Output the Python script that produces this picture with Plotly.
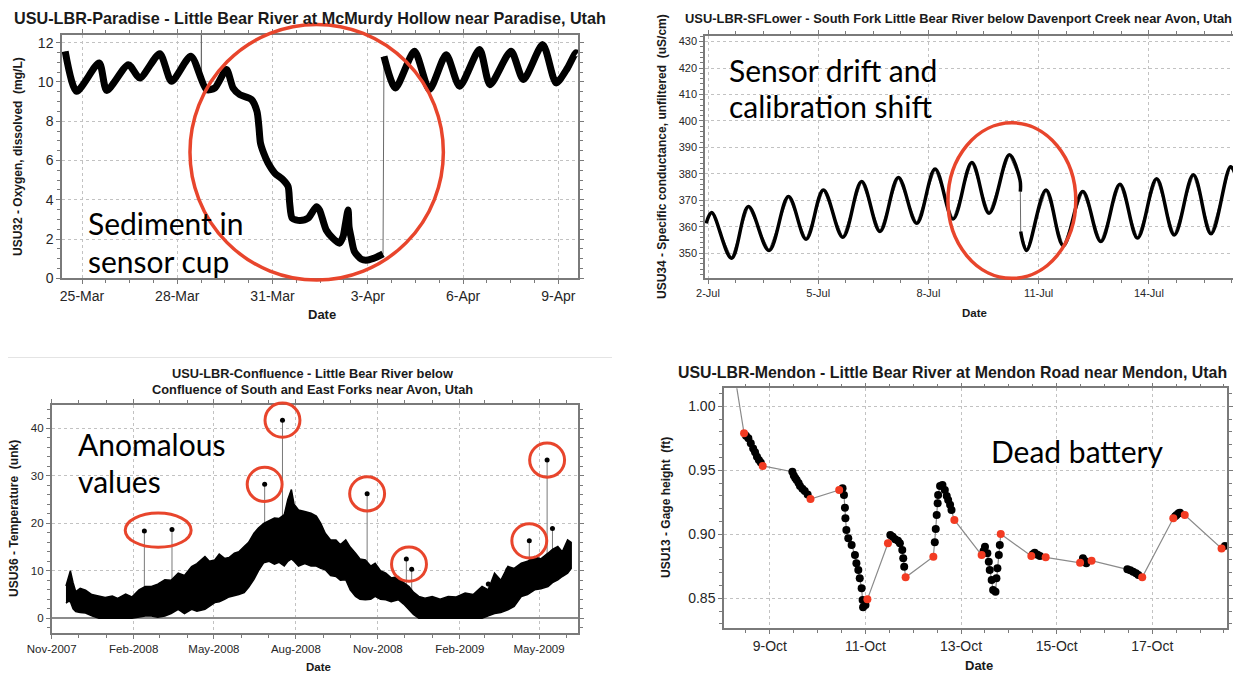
import pandas as pd
import plotly.graph_objects as go

W, H = 1241, 673          # browser window
OX, OY = 8, 8             # page body margin around the figure div
FW, FH = W - OX, H - OY   # figure size so the page does not scroll

# ---------------- Panel 1: dissolved oxygen (mg/L), days after 25-Mar ----------------
p1_base = "2008-03-25"
p1_day_a = [-0.53, -0.17, 0.54, 0.78, 1.46, 1.82, 2.45, 2.82, 3.43, 3.92, 4.18, 4.55, 4.76, 4.97,
            5.34, 5.51, 5.57, 5.62, 5.72, 5.86, 6.07, 6.33, 6.49, 6.54, 6.62, 6.86, 7.12, 7.38,
            7.48, 7.69, 7.90, 8.11, 8.22, 8.30, 8.38, 8.41, 8.48, 8.58, 8.80, 9.00, 9.27, 9.48]
p1_val_a = [11.56, 9.52, 10.97, 9.57, 10.88, 10.20, 11.44, 10.03, 11.31, 9.61, 9.69, 10.63, 9.69, 9.35,
            9.10, 8.50, 7.74, 6.89, 6.38, 5.87, 5.36, 5.02, 4.67, 3.83, 3.06, 2.94, 3.06, 3.65,
            3.48, 2.46, 2.04, 1.79, 2.12, 2.81, 3.48, 2.63, 2.04, 1.36, 0.97, 0.93, 1.07, 1.24]
p1_day_b = [9.51, 9.87, 10.47, 10.94, 11.47, 11.89, 12.52, 12.85, 13.51, 13.90, 14.51, 14.93, 15.29, 15.55, 15.60]
p1_val_b = [11.30, 9.69, 11.56, 9.61, 11.39, 9.78, 11.65, 9.86, 11.56, 10.12, 11.90, 9.95, 10.71, 11.48, 11.45]
p1_spike_day = [3.755, 3.76, 3.765]
p1_spike_val = [10.2, 16.0, 10.1]

# ---------------- Panel 2: specific conductance (uS/cm), days after 2-Jul ----------------
p2_base = "2008-07-02"
p2_day_a = [-0.05, 0.10, 0.64, 1.10, 1.66, 2.19, 2.67, 3.14, 3.67, 4.18, 4.68, 5.18, 5.68, 6.18,
            6.67, 7.18, 7.65, 8.20, 8.49, 8.50]
p2_val_a = [361.3, 365.4, 348.1, 367.6, 351.0, 371.4, 355.3, 373.9, 356.0, 377.1, 358.2, 378.6, 361.3, 381.8,
            362.9, 384.3, 365.1, 387.2, 377.7, 373.3]
p2_day_b = [8.51, 8.67, 9.20, 9.67, 10.20, 10.69, 11.21, 11.69, 12.21, 12.69, 13.21, 13.69, 14.22, 14.37]
p2_val_b = [358.2, 351.0, 373.9, 352.8, 373.3, 354.4, 376.1, 355.7, 378.1, 356.9, 379.6, 357.3, 382.7, 379.0]

# ---------------- Panel 3: temperature, envelope of the dense record ----------------
p3_date = ["2007-11-17", "2007-11-20", "2007-11-22", "2007-11-25", "2007-11-28", "2007-12-03", "2007-12-09",
           "2007-12-16", "2007-12-24", "2007-12-31", "2008-01-08", "2008-01-14", "2008-01-23", "2008-01-30",
           "2008-02-07", "2008-02-14", "2008-02-21", "2008-02-28", "2008-03-07", "2008-03-14", "2008-03-22",
           "2008-03-29", "2008-04-06", "2008-04-12", "2008-04-21", "2008-04-26", "2008-05-02", "2008-05-07",
           "2008-05-13", "2008-05-18", "2008-05-24", "2008-05-29", "2008-06-04", "2008-06-09", "2008-06-15",
           "2008-06-20", "2008-06-26", "2008-07-02", "2008-07-08", "2008-07-13", "2008-07-19", "2008-07-23",
           "2008-07-27", "2008-07-30", "2008-08-04", "2008-08-11", "2008-08-18", "2008-08-24", "2008-08-29",
           "2008-09-03", "2008-09-09", "2008-09-15", "2008-09-20", "2008-09-26", "2008-10-01", "2008-10-07",
           "2008-10-12", "2008-10-18", "2008-10-24", "2008-10-29", "2008-11-04", "2008-11-10", "2008-11-16",
           "2008-11-24", "2008-11-30", "2008-12-06", "2008-12-11", "2008-12-17", "2008-12-24", "2009-01-01",
           "2009-01-10", "2009-01-19", "2009-01-28", "2009-02-07", "2009-02-16", "2009-02-26", "2009-03-05",
           "2009-03-12", "2009-03-19", "2009-03-27", "2009-04-03", "2009-04-11", "2009-04-18", "2009-04-26",
           "2009-05-03", "2009-05-11", "2009-05-16", "2009-05-22", "2009-05-27", "2009-06-02", "2009-06-06"]
p3_upper = [6.8, 9.0, 10.0, 7.5, 5.6, 6.3, 5.9, 5.0, 4.7, 4.4, 4.7, 4.2, 5.1, 4.5,
            6.0, 6.7, 6.7, 7.2, 8.1, 8.0, 9.5, 9.0, 10.9, 11.5, 13.0, 12.0, 12.3, 13.5,
            12.6, 12.8, 13.7, 14.0, 15.1, 16.0, 17.9, 19.0, 20.0, 20.5, 21.1, 21.0, 21.8, 25.0,
            27.1, 24.0, 22.8, 22.5, 22.1, 21.5, 20.0, 17.9, 16.5, 16.5, 15.5, 16.5, 15.0, 13.7,
            12.5, 12.3, 11.0, 11.6, 10.0, 9.5, 8.5, 8.8, 7.5, 6.7, 5.5, 4.6, 4.2, 4.6,
            4.0, 4.6, 4.5, 5.3, 5.0, 6.7, 6.0, 9.5, 8.0, 10.9, 10.5, 11.6, 12.0, 13.0,
            12.5, 13.7, 14.5, 15.1, 14.0, 16.5, 16.0]
p3_lower = [3.2, 3.6, 3.5, 2.0, 1.4, 1.2, 1.1, 0.5, 0.0, 0.0, 0.0, 0.0, 0.0, 0.0,
            0.3, 0.5, 0.5, 0.2, 0.5, 1.0, 1.9, 1.0, 1.9, 1.5, 1.9, 2.5, 3.3, 3.5,
            4.0, 4.5, 4.7, 5.0, 5.4, 6.5, 8.2, 10.0, 11.7, 12.0, 11.4, 11.8, 11.0, 12.0,
            12.5, 12.0, 11.0, 11.5, 11.0, 11.0, 10.5, 10.2, 9.0, 8.8, 8.0, 8.1, 6.0, 4.6,
            4.0, 3.9, 4.0, 4.6, 4.0, 3.9, 3.5, 3.9, 3.0, 1.75, 0.8, 0.0, 0.0, 0.0,
            0.0, 0.0, 0.0, 0.0, 0.0, 0.0, 0.5, 1.0, 1.2, 1.8, 2.5, 4.6, 5.0, 6.0,
            6.2, 6.7, 7.5, 8.1, 8.8, 9.5, 10.5]
p3_spike_date = ["2008-02-13", "2008-03-15", "2008-06-27", "2008-07-17", "2008-10-20", "2008-12-03",
                 "2008-12-09", "2009-03-05", "2009-03-27", "2009-04-20", "2009-05-10", "2009-05-16"]
p3_spike_val = [18.4, 18.7, 28.2, 41.7, 26.2, 12.5, 10.3, 7.2, 10.2, 16.3, 33.3, 18.9]
p3_spike_base = [3.0, 3.0, 14.0, 14.0, 6.0, 4.0, 3.0, 3.0, 5.0, 8.0, 9.0, 10.0]
p3_circled = [[0, 1], [2], [3], [4], [5, 6], [9], [10]]

# ---------------- Panel 4: gage height (ft), days after 9-Oct ----------------
p4_base = "2008-10-09"
p4_day = [-0.76,
          -0.54, -0.50, -0.45, -0.40, -0.35, -0.31, -0.27, -0.23, -0.19, -0.15,
          0.47, 0.50, 0.53, 0.56, 0.60, 0.63, 0.68, 0.73, 0.79, 0.85,
          1.45, 1.52, 1.55, 1.57, 1.58, 1.60, 1.64, 1.71, 1.78, 1.81, 1.85, 1.88, 1.92, 1.94, 1.95, 2.00, 2.04,
          2.47, 2.52, 2.57, 2.62, 2.68, 2.72, 2.77, 2.79, 2.81, 2.84,
          3.42, 3.45, 3.47, 3.49, 3.51, 3.52, 3.56, 3.61, 3.66, 3.70, 3.73, 3.77, 3.80, 3.86,
          4.43, 4.47, 4.50, 4.55, 4.58, 4.60, 4.64, 4.67, 4.72, 4.74, 4.76, 4.79, 4.81, 4.83,
          5.47, 5.50, 5.54, 5.60, 5.65, 5.77,
          6.49, 6.55, 6.60, 6.62, 6.73,
          7.48, 7.54, 7.60, 7.66, 7.71, 7.79,
          8.44, 8.48, 8.51, 8.55, 8.58, 8.68,
          9.45, 9.52]
p4_val = [1.030,
          0.9789, 0.977, 0.975, 0.971, 0.967, 0.964, 0.9606, 0.958, 0.956, 0.9534,
          0.9489, 0.946, 0.944, 0.9424, 0.940, 0.9377, 0.9355, 0.9338, 0.931, 0.9276,
          0.9346, 0.936, 0.9307, 0.9208, 0.9125, 0.9034, 0.8969, 0.8916, 0.8838, 0.8773, 0.8721, 0.8656, 0.8578, 0.8487, 0.843, 0.8448, 0.8492,
          0.893, 0.8995, 0.898, 0.8961, 0.895, 0.893, 0.8877, 0.8812, 0.8747, 0.8664,
          0.8825, 0.8937, 0.9041, 0.915, 0.9242, 0.9307, 0.9377, 0.9385, 0.9346, 0.930, 0.9268, 0.923, 0.919, 0.9112,
          0.8838, 0.887, 0.8903, 0.8852, 0.8786, 0.8721, 0.8643, 0.8565, 0.8552, 0.8656, 0.8734, 0.8838, 0.8916, 0.9002,
          0.883, 0.8845, 0.8856, 0.884, 0.883, 0.882,
          0.8778, 0.8812, 0.879, 0.8773, 0.8794,
          0.8727, 0.872, 0.8708, 0.8695, 0.8682, 0.8664,
          0.9125, 0.914, 0.915, 0.9165, 0.9169, 0.915,
          0.889, 0.8909]
p4_red = [0,
          1, 0, 0, 0, 0, 0, 0, 0, 0, 1,
          0, 0, 0, 0, 0, 0, 0, 0, 0, 1,
          1, 0, 0, 0, 0, 0, 0, 0, 0, 0, 0, 0, 0, 0, 0, 0, 1,
          1, 0, 0, 0, 0, 0, 0, 0, 0, 1,
          1, 0, 0, 0, 0, 0, 0, 0, 0, 0, 0, 0, 0, 1,
          1, 0, 0, 0, 0, 0, 0, 0, 0, 0, 0, 0, 0, 1,
          1, 0, 0, 0, 0, 1,
          1, 0, 0, 0, 1,
          0, 0, 0, 0, 0, 1,
          1, 0, 0, 0, 0, 1,
          1, 0]

# ---------------- text ----------------
titles = ["USU-LBR-Paradise - Little Bear River at McMurdy Hollow near Paradise, Utah",
          "USU-LBR-SFLower - South Fork Little Bear River below Davenport Creek near Avon, Utah",
          "USU-LBR-Confluence - Little Bear River below",
          "Confluence of South and East Forks near Avon, Utah",
          "USU-LBR-Mendon - Little Bear River at Mendon Road near Mendon, Utah"]
ytitles = ["USU32 - Oxygen, dissolved \u00a0(mg/L)",
           "USU34 - Specific conductance, unfiltered \u00a0(uS/cm)",
           "USU36 - Temperature \u00a0(unk)",
           "USU13 - Gage height \u00a0(ft)"]
notes = [["Sediment in", "sensor cup"], ["Sensor drift and", "calibration shift"],
         ["Anomalous", "values"], ["Dead battery"]]

# ---------------- helpers ----------------
DAY = pd.Timedelta(days=1)


def fx(x):  # page pixel -> paper fraction
    return (x - OX) / FW


def fy(y):
    return 1 - (y - OY) / FH


def to_dates(base, days):
    b = pd.Timestamp(base)
    return [b + d * DAY for d in days]


def ms(t):
    return pd.Timestamp(t).value / 1e6


TF = "Liberation Sans, Arial, sans-serif"
NF = "Lato, Carlito, Calibri, sans-serif"
RED = "#e8452c"
GRAY = "#7a7a7a"

# subplot frames (page pixels -> paper fractions)
dom = {
    1: ((fx(62), fx(578)), (fy(278.3), fy(35))),
    2: ((fx(705), fx(1236)), (fy(278.3), fy(36))),
    3: ((fx(51.7), fx(578.3)), (fy(633.3), fy(405))),
    4: ((fx(724), fx(1227.3)), (fy(628.3), fy(388.3))),
}
xr = {
    1: [pd.Timestamp(p1_base) - 0.63 * DAY, pd.Timestamp(p1_base) + 15.62 * DAY],
    2: [pd.Timestamp(p2_base) - 0.082 * DAY, pd.Timestamp(p2_base) + 14.37 * DAY],
    3: [pd.Timestamp("2007-11-01"), pd.Timestamp("2009-06-14")],
    4: [pd.Timestamp(p4_base) - 0.96 * DAY, pd.Timestamp(p4_base) + 9.57 * DAY],
}
yr = {1: [0, 12.39], 2: [340.5, 432.1], 3: [-3.16, 44.9], 4: [0.8266, 1.014]}


def to_paper(p, xv, yv):
    (xd, yd) = dom[p]
    x0, x1 = ms(xr[p][0]), ms(xr[p][1])
    y0, y1 = yr[p]
    return (xd[0] + (ms(xv) - x0) / (x1 - x0) * (xd[1] - xd[0]),
            yd[0] + (yv - y0) / (y1 - y0) * (yd[1] - yd[0]))


def ellipse(p, xc, yc, hx_days, hy, width=3):
    xc = pd.Timestamp(xc)
    xa, ya = to_paper(p, xc - hx_days * DAY, yc - hy)
    xb, yb = to_paper(p, xc + hx_days * DAY, yc + hy)
    return dict(type="circle", xref="paper", yref="paper", x0=xa, x1=xb, y0=ya, y1=yb,
                line=dict(color=RED, width=width), layer="above")


fig = go.Figure()


def ax(p):
    return ("x" if p == 1 else f"x{p}"), ("y" if p == 1 else f"y{p}")


# ---- Panel 1 traces
xa_, ya_ = ax(1)
d1a, d1b = to_dates(p1_base, p1_day_a), to_dates(p1_base, p1_day_b)
fig.add_trace(go.Scatter(x=d1a + d1b, y=p1_val_a + p1_val_b, mode="lines",
                         line=dict(color="#6a6a6a", width=1), xaxis=xa_, yaxis=ya_))
fig.add_trace(go.Scatter(x=to_dates(p1_base, p1_spike_day), y=p1_spike_val, mode="lines",
                         line=dict(color="#6a6a6a", width=1), xaxis=xa_, yaxis=ya_))
for dd, vv in ((d1a, p1_val_a), (d1b, p1_val_b)):
    fig.add_trace(go.Scatter(x=dd, y=vv, mode="lines",
                             line=dict(color="black", width=7, shape="spline", smoothing=0.7),
                             xaxis=xa_, yaxis=ya_))

# ---- Panel 2 traces
xa_, ya_ = ax(2)
d2a, d2b = to_dates(p2_base, p2_day_a), to_dates(p2_base, p2_day_b)
fig.add_trace(go.Scatter(x=d2a + d2b, y=p2_val_a + p2_val_b, mode="lines",
                         line=dict(color="#6a6a6a", width=1), xaxis=xa_, yaxis=ya_))
for dd, vv in ((d2a, p2_val_a), (d2b, p2_val_b)):
    fig.add_trace(go.Scatter(x=dd, y=vv, mode="lines",
                             line=dict(color="black", width=3.5, shape="spline", smoothing=1.0),
                             xaxis=xa_, yaxis=ya_))

# ---- Panel 3 traces
xa_, ya_ = ax(3)
sx, sy = [], []
for d, v, b in zip(p3_spike_date, p3_spike_val, p3_spike_base):
    sx += [d, d, None]
    sy += [b, v, None]
fig.add_trace(go.Scatter(x=sx, y=sy, mode="lines", line=dict(color="#7a7a7a", width=1),
                         xaxis=xa_, yaxis=ya_))
fig.add_trace(go.Scatter(x=p3_date + p3_date[::-1], y=p3_upper + p3_lower[::-1], mode="lines",
                         fill="toself", fillcolor="black", line=dict(color="black", width=1.5),
                         xaxis=xa_, yaxis=ya_))
fig.add_trace(go.Scatter(x=p3_spike_date, y=p3_spike_val, mode="markers",
                         marker=dict(color="black", size=5), xaxis=xa_, yaxis=ya_))

# ---- Panel 4 traces
xa_, ya_ = ax(4)
d4 = to_dates(p4_base, p4_day)
fig.add_trace(go.Scatter(x=d4, y=p4_val, mode="lines", line=dict(color="#8a8a8a", width=1.2),
                         xaxis=xa_, yaxis=ya_))
fig.add_trace(go.Scatter(x=[d for d, r in zip(d4, p4_red) if r == 0],
                         y=[v for v, r in zip(p4_val, p4_red) if r == 0], mode="markers",
                         marker=dict(color="black", size=8), xaxis=xa_, yaxis=ya_))
fig.add_trace(go.Scatter(x=[d for d, r in zip(d4, p4_red) if r == 1],
                         y=[v for v, r in zip(p4_val, p4_red) if r == 1], mode="markers",
                         marker=dict(color="#f23b22", size=8), xaxis=xa_, yaxis=ya_))

# ---------------- axes ----------------
xcfg = {
    1: dict(tick0=p1_base, dtick=3 * 86400000, tickformat="%-d-%b", minor=dict(dtick=0.75 * 86400000), fs=14),
    2: dict(tick0=p2_base, dtick=3 * 86400000, tickformat="%-d-%b", minor=dict(dtick=0.75 * 86400000), fs=11),
    3: dict(tick0="2007-11-01", dtick="M3", tickformat="%b-%Y", minor=dict(dtick="M1"), fs=11.5),
    4: dict(tick0=p4_base, dtick=2 * 86400000, tickformat="%-d-%b", minor=dict(dtick=0.5 * 86400000), fs=14),
}
ycfg = {
    1: dict(dtick=2, minor=dict(dtick=0.5), tickformat="d", fs=14),
    2: dict(dtick=10, minor=dict(dtick=2), tickformat="d", fs=11),
    3: dict(dtick=10, minor=dict(dtick=2), tickformat="d", fs=11.5),
    4: dict(dtick=0.05, minor=dict(dtick=0.01), tickformat=".2f", fs=14),
}
common = dict(showline=True, linecolor=GRAY, linewidth=1.5, mirror="allticks", ticks="outside",
              ticklen=4, tickcolor=GRAY, tickwidth=1, showgrid=True, gridcolor="#c2c2c2", griddash="dot",
              gridwidth=1, zeroline=False, fixedrange=True, automargin=False)
layout_axes = {}
for p in (1, 2, 3, 4):
    xs = "xaxis" if p == 1 else f"xaxis{p}"
    ys = "yaxis" if p == 1 else f"yaxis{p}"
    xa_, ya_ = ax(p)
    xc, yc = dict(xcfg[p]), dict(ycfg[p])
    xfs, yfs = xc.pop("fs"), yc.pop("fs")
    xmin, ymin = xc.pop("minor"), yc.pop("minor")
    layout_axes[xs] = dict(common, type="date", domain=list(dom[p][0]), anchor=ya_,
                           range=[str(xr[p][0]), str(xr[p][1])],
                           tickfont=dict(family=TF, size=xfs, color="#262626"),
                           minor=dict(ticks="outside", ticklen=3, tickcolor=GRAY, showgrid=False, **xmin),
                           **xc)
    layout_axes[ys] = dict(common, domain=list(dom[p][1]), anchor=xa_, range=yr[p],
                           tickfont=dict(family=TF, size=yfs, color="#262626"),
                           minor=dict(ticks="outside", ticklen=3, tickcolor=GRAY, showgrid=False, **ymin),
                           **yc)
layout_axes["yaxis3"].update(zeroline=True, zerolinecolor="#8c8c8c", zerolinewidth=1.5)

# ---------------- annotations ----------------
ann = []


def txt(text, x, y, size, font=TF, xanchor="center", angle=0, color="#1a1a1a"):
    ann.append(dict(text=text, x=fx(x), y=fy(y), xref="paper", yref="paper", showarrow=False,
                    xanchor=xanchor, yanchor="middle", textangle=angle,
                    font=dict(family=font, size=size, color=color)))


txt("<b>" + titles[0] + "</b>", 310, 18, 16.2)
txt("<b>" + titles[1] + "</b>", 958, 18, 12.9)
txt("<b>" + titles[2] + "</b>", 312, 373, 12.8)
txt("<b>" + titles[3] + "</b>", 312, 390, 12.8)
txt("<b>" + titles[4] + "</b>", 953, 372, 15.9)

txt("<b>" + ytitles[0] + "</b>", 18, 157, 12, angle=-90)
txt("<b>" + ytitles[1] + "</b>", 662, 157, 12, angle=-90)
txt("<b>" + ytitles[2] + "</b>", 14, 519, 12, angle=-90)
txt("<b>" + ytitles[3] + "</b>", 666, 508, 12, angle=-90)

txt("<b>Date</b>", 322, 314, 13)
txt("<b>Date</b>", 974, 313, 11.5)
txt("<b>Date</b>", 318, 667, 11.5)
txt("<b>Date</b>", 979, 665, 13)

NS = 30
txt(notes[0][0], 86, 222.5, NS, font=NF, xanchor="left", color="black")
txt(notes[0][1], 86, 261, NS, font=NF, xanchor="left", color="black")
txt(notes[1][0], 727, 70, NS, font=NF, xanchor="left", color="black")
txt(notes[1][1], 727, 106.5, NS, font=NF, xanchor="left", color="black")
txt(notes[2][0], 76, 444, NS, font=NF, xanchor="left", color="black")
txt(notes[2][1], 76, 481, NS, font=NF, xanchor="left", color="black")
txt(notes[3][0], 989, 451, NS, font=NF, xanchor="left", color="black")

# ---------------- highlight ellipses ----------------
shapes = [
    ellipse(1, pd.Timestamp(p1_base) + 7.39 * DAY, 6.42, 3.99, 6.51, width=3.5),
    ellipse(2, pd.Timestamp(p2_base) + 8.27 * DAY, 369.9, 1.74, 29.4, width=3.5),
]
for grp in p3_circled:
    cx = pd.Timestamp(sum(ms(p3_spike_date[i]) for i in grp) / len(grp), unit="ms")
    cy = sum(p3_spike_val[i] for i in grp) / len(grp)
    spread = (ms(p3_spike_date[grp[-1]]) - ms(p3_spike_date[grp[0]])) / 86400000
    hx = 37.0 if spread > 20 else 19.6
    shapes.append(ellipse(3, cx, cy, hx, 3.6, width=3))

shapes.append(dict(type="line", xref="paper", yref="paper", x0=0, x1=fx(612),
                   y0=fy(357.5), y1=fy(357.5), line=dict(color="#e4e4e4", width=1)))

fig.update_layout(width=FW, height=FH, margin=dict(l=0, r=0, t=0, b=0, autoexpand=False),
                  paper_bgcolor="white", plot_bgcolor="white", showlegend=False,
                  annotations=ann, shapes=shapes, **layout_axes)

fig.write_html("out.html")
